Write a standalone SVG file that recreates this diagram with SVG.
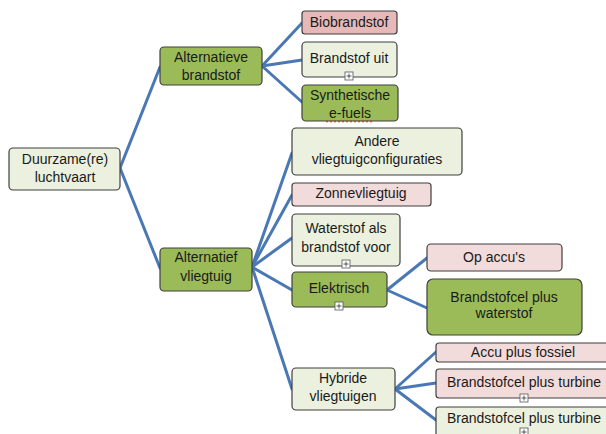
<svg xmlns="http://www.w3.org/2000/svg" width="606" height="434" viewBox="0 0 606 434">
<style>
.n rect{stroke:#3f3f3f;stroke-width:1.2}
.lg{fill:#ebf1de}
.dg{fill:#9bbb59}
.pk{fill:#e6b9b8}
.lp{fill:#f2dcdb}
text{font-family:"Liberation Sans",Arial,sans-serif;font-size:14px;fill:#1a1a1a;text-anchor:middle}
.c line{stroke:#4a78b5;stroke-width:3;stroke-linecap:round}
.plus rect{fill:#fff;stroke:#555;stroke-width:0.8}
.plus path{stroke:#333;stroke-width:0.8;fill:none}
</style>
<rect width="606" height="434" fill="#fff"/>
<g class="c" id="connectors">
<line x1="120" y1="168" x2="160" y2="67"/>
<line x1="120" y1="168" x2="160" y2="268"/>
<line x1="262" y1="66" x2="302" y2="23"/>
<line x1="262" y1="66" x2="302" y2="60"/>
<line x1="262" y1="66" x2="302" y2="102"/>
<line x1="252" y1="267" x2="292" y2="153"/>
<line x1="252" y1="267" x2="292" y2="195"/>
<line x1="252" y1="267" x2="292" y2="238"/>
<line x1="252" y1="267" x2="292" y2="290"/>
<line x1="252" y1="267" x2="292" y2="389"/>
<line x1="387" y1="290" x2="427" y2="258"/>
<line x1="387" y1="290" x2="427" y2="308"/>
<line x1="395" y1="389" x2="436" y2="352"/>
<line x1="395" y1="389" x2="436" y2="383"/>
<line x1="395" y1="389" x2="436" y2="420"/>
</g>
<g class="n" id="root"><rect class="lg" x="9" y="148" width="111" height="42" rx="4"/><text x="65" y="164">Duurzame(re)</text><text x="65" y="182">luchtvaart</text></g>
<g class="n" id="alt-brandstof"><rect class="dg" x="160" y="47" width="102" height="38" rx="4"/><text x="211" y="62">Alternatieve</text><text x="211" y="80">brandstof</text></g>
<g class="n" id="biobrandstof"><rect class="pk" x="302" y="11" width="95" height="23" rx="3"/><text x="349" y="27">Biobrandstof</text></g>
<g class="n" id="brandstof-uit"><rect class="lg" x="302" y="42" width="95" height="35" rx="4"/><text x="349" y="63">Brandstof uit</text></g>
<g class="n" id="synthetische"><rect class="dg" x="302" y="85" width="96" height="36" rx="4"/><text x="350" y="100">Synthetische</text><text x="350" y="118">e-fuels</text><path d="M326 121.5 H374" stroke="#e0352b" stroke-width="1.6" stroke-dasharray="2 2"/></g>
<g class="n" id="andere"><rect class="lg" x="292" y="128" width="170" height="47" rx="4"/><text x="377" y="146">Andere</text><text x="377" y="164">vliegtuigconfiguraties</text></g>
<g class="n" id="zonnevliegtuig"><rect class="lp" x="292" y="183" width="139" height="23" rx="3"/><text x="361" y="198">Zonnevliegtuig</text></g>
<g class="n" id="waterstof"><rect class="lg" x="292" y="214" width="108" height="52" rx="4"/><text x="346" y="233">Waterstof als</text><text x="346" y="252">brandstof voor</text></g>
<g class="n" id="alt-vliegtuig"><rect class="dg" x="160" y="248" width="92" height="43" rx="4"/><text x="206" y="262">Alternatief</text><text x="206" y="281">vliegtuig</text></g>
<g class="n" id="elektrisch"><rect class="dg" x="292" y="272" width="95" height="35" rx="4"/><text x="339" y="293">Elektrisch</text></g>
<g class="n" id="op-accus"><rect class="lp" x="427" y="244" width="135" height="27" rx="4"/><text x="494" y="262">Op accu's</text></g>
<g class="n" id="brandstofcel-waterstof"><rect class="dg" x="427" y="279" width="155" height="56" rx="6"/><text x="504" y="302">Brandstofcel plus</text><text x="504" y="318">waterstof</text></g>
<g class="n" id="hybride"><rect class="lg" x="292" y="368" width="103" height="42" rx="4"/><text x="343" y="383">Hybride</text><text x="343" y="401">vliegtuigen</text></g>
<g class="n" id="accu-fossiel"><rect class="lp" x="436" y="343" width="180" height="19" rx="3"/><text x="523" y="357">Accu plus fossiel</text></g>
<g class="n" id="brandstofcel-turbine-1"><rect class="lp" x="436" y="369" width="180" height="29" rx="3"/><text x="524" y="387">Brandstofcel plus turbine</text></g>
<g class="n" id="brandstofcel-turbine-2"><rect class="lg" x="436" y="407" width="180" height="40" rx="3"/><text x="524" y="423">Brandstofcel plus turbine</text></g>
<g class="plus" id="expanders">
<g transform="translate(349,76)"><rect x="-4" y="-4" width="8" height="8"/><path d="M-2.5 0H2.5M0 -2.5V2.5"/></g>
<g transform="translate(346,264)"><rect x="-4" y="-4" width="8" height="8"/><path d="M-2.5 0H2.5M0 -2.5V2.5"/></g>
<g transform="translate(339,306)"><rect x="-4" y="-4" width="8" height="8"/><path d="M-2.5 0H2.5M0 -2.5V2.5"/></g>
<g transform="translate(524,398)"><rect x="-4" y="-4" width="8" height="8"/><path d="M-2.5 0H2.5M0 -2.5V2.5"/></g>
<g transform="translate(524,432)"><rect x="-4" y="-4" width="8" height="8"/><path d="M-2.5 0H2.5M0 -2.5V2.5"/></g>
</g>
</svg>
